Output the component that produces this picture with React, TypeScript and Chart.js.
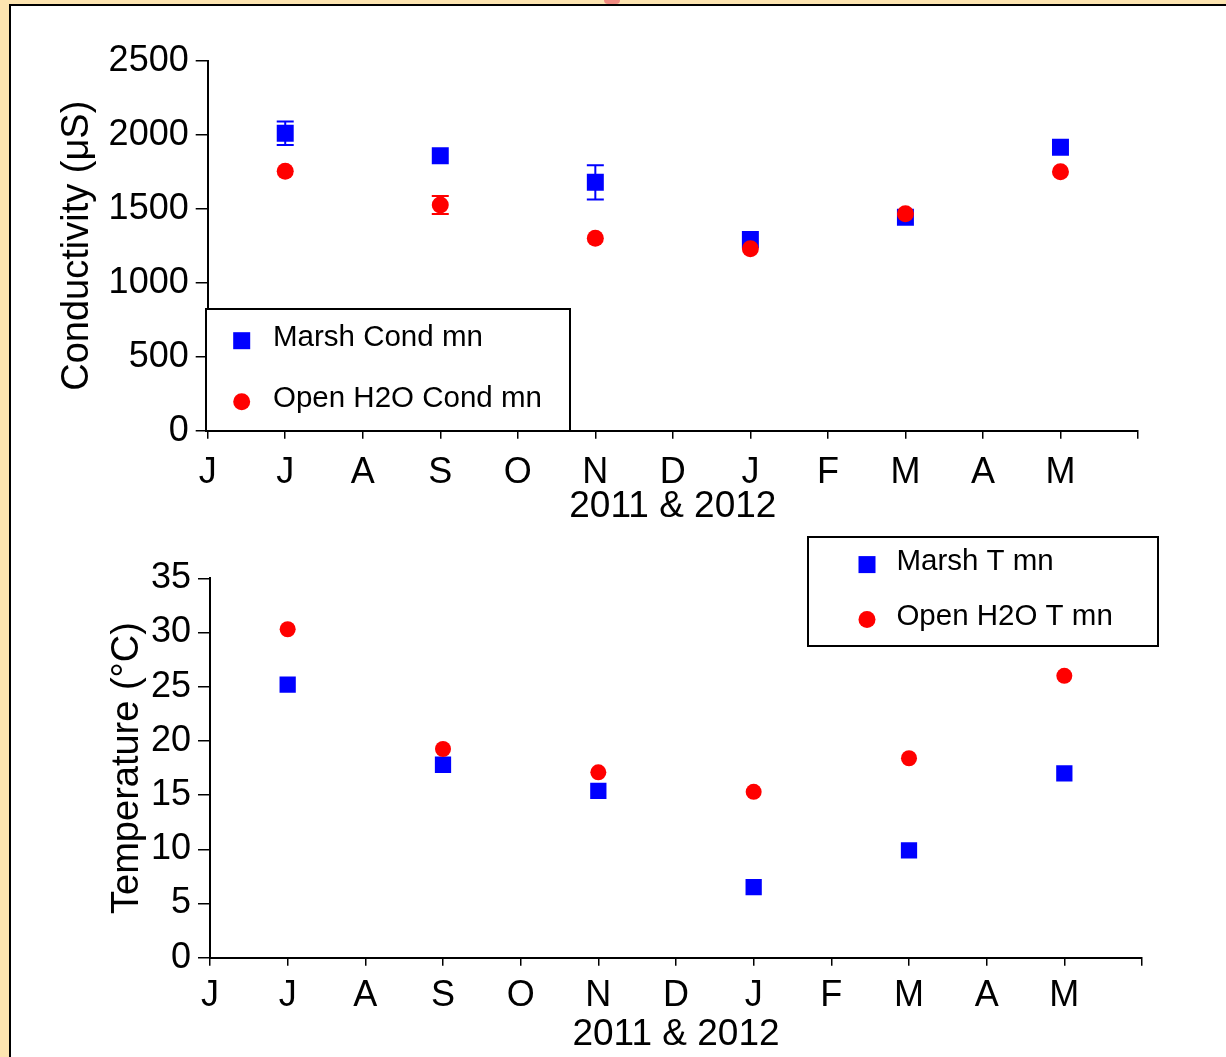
import React, { useEffect, useRef } from 'react';
import { Chart, registerables } from 'chart.js';

Chart.register(...registerables);

// ---------- data ----------
const monthLabels = ['J', 'J', 'A', 'S', 'O', 'N', 'D', 'J', 'F', 'M', 'A', 'M', ''];
const sampleMonths = [1, 3, 5, 7, 9, 11];

const marshCond = [2010, 1858, 1678, 1292, 1442, 1915];
const marshCondErr = [80, 0, 116, 0, 0, 0];
const openCond = [1753, 1525, 1300, 1230, 1466, 1750];
const openCondErr = [0, 60, 0, 0, 0, 0];

const marshTemp = [25.2, 17.8, 15.4, 6.5, 9.9, 17.0];
const openTemp = [30.3, 19.25, 17.1, 15.3, 18.4, 26.0];

const condAxis = { min: 0, max: 2500, step: 500 };
const tempAxis = { min: 0, max: 35, step: 5 };

const FONT = "'Liberation Sans', Arial, Helvetica, sans-serif";
const BLUE = '#0000FF';
const RED = '#FF0000';

// ---------- plugins ----------
const errorBarPlugin = {
  id: 'errorBars',
  afterDatasetsDraw(chart: any) {
    const ctx = chart.ctx;
    const xs = chart.scales.x;
    const ys = chart.scales.y;
    chart.data.datasets.forEach((ds: any) => {
      const errs = ds.errors;
      if (!errs) return;
      ctx.save();
      ctx.strokeStyle = ds.backgroundColor;
      ctx.lineWidth = 2;
      ds.data.forEach((pt: any, j: number) => {
        const e = errs[j];
        if (!e) return;
        const px = xs.getPixelForValue(pt.x);
        const yT = ys.getPixelForValue(pt.y + e);
        const yB = ys.getPixelForValue(pt.y - e);
        const cw = 8.5;
        ctx.beginPath();
        ctx.moveTo(px, yT);
        ctx.lineTo(px, yB);
        ctx.moveTo(px - cw, yT);
        ctx.lineTo(px + cw, yT);
        ctx.moveTo(px - cw, yB);
        ctx.lineTo(px + cw, yB);
        ctx.stroke();
      });
      ctx.restore();
    });
  },
};

const boxLegendPlugin = {
  id: 'boxLegend',
  afterDraw(chart: any, _args: any, opts: any) {
    if (!opts || !opts.box) return;
    const ctx = chart.ctx;
    const { left, top, right, bottom } = opts.box;
    ctx.save();
    ctx.fillStyle = '#fff';
    ctx.fillRect(left, top, right - left, bottom - top);
    ctx.strokeStyle = '#000';
    ctx.lineWidth = 2;
    ctx.strokeRect(left, top, right - left, bottom - top);
    chart.data.datasets.forEach((ds: any, i: number) => {
      const cy = top + opts.rows[i];
      const cx = left + opts.markerX;
      ctx.fillStyle = ds.backgroundColor;
      if (ds.pointStyle === 'rect') {
        const s = opts.markerSize;
        ctx.fillRect(cx - s / 2, cy - s / 2, s, s);
      } else {
        ctx.beginPath();
        ctx.arc(cx, cy, opts.markerSize / 2, 0, Math.PI * 2);
        ctx.fill();
      }
      ctx.fillStyle = '#000';
      ctx.font = `${opts.fontSize}px ${FONT}`;
      ctx.textBaseline = 'middle';
      ctx.textAlign = 'left';
      ctx.fillText(ds.label, left + opts.textX, cy - 3);
    });
    ctx.restore();
  },
};

// ---------- chart builder ----------
function makeConfig(p: any) {
  const pts = (vals: number[]) => vals.map((v, i) => ({ x: sampleMonths[i], y: v }));
  return {
    type: 'scatter',
    data: {
      datasets: [
        {
          label: p.labels[0],
          data: pts(p.marsh),
          errors: p.marshErr,
          pointStyle: 'rect',
          pointRadius: p.rectR,
          pointHoverRadius: p.rectR,
          backgroundColor: BLUE,
          borderColor: BLUE,
          borderWidth: 0,
          order: 2,
        },
        {
          label: p.labels[1],
          data: pts(p.open),
          errors: p.openErr,
          pointStyle: 'circle',
          pointRadius: p.circR,
          pointHoverRadius: p.circR,
          backgroundColor: RED,
          borderColor: RED,
          borderWidth: 0,
          order: 1,
        },
      ],
    },
    options: {
      responsive: false,
      animation: false,
      events: [],
      layout: { padding: { left: 0, top: p.padTop, right: p.padRight, bottom: 0 } },
      plugins: {
        legend: { display: false },
        tooltip: { enabled: false },
        boxLegend: p.legend,
      },
      scales: {
        x: {
          type: 'linear',
          min: 0,
          max: 12,
          afterBuildTicks: (s: any) => {
            s.ticks = monthLabels.map((_, i) => ({ value: i }));
          },
          ticks: {
            autoSkip: false,
            maxRotation: 0,
            callback: (_v: any, i: number) => monthLabels[i],
            font: { family: FONT, size: 36 },
            color: '#000',
            padding: p.xTickPad,
          },
          grid: { drawOnChartArea: false, tickLength: 8, color: '#000', lineWidth: 1.5 },
          border: { display: true, color: '#000', width: 2 },
          title: {
            display: true,
            text: '2011 & 2012',
            font: { family: FONT, size: 37 },
            color: '#000',
            padding: { top: 0, bottom: p.xTitlePad },
          },
          afterFit: (s: any) => {
            s.height = p.xAxisH;
          },
        },
        y: {
          type: 'linear',
          min: p.axis.min,
          max: p.axis.max,
          afterBuildTicks: (s: any) => {
            const t = [];
            for (let v = p.axis.min; v <= p.axis.max; v += p.axis.step) t.push({ value: v });
            s.ticks = t;
          },
          ticks: {
            callback: (v: any) => String(v),
            font: { family: FONT, size: 36 },
            color: '#000',
            padding: 7,
          },
          grid: { drawOnChartArea: false, tickLength: 12, color: '#000', lineWidth: 1.5 },
          border: { display: true, color: '#000', width: 2 },
          title: {
            display: true,
            text: p.yTitle,
            font: { family: FONT, size: 38 },
            color: '#000',
            padding: { top: p.yTitlePad, bottom: 0 },
          },
          afterFit: (s: any) => {
            s.width = p.yAxisW;
          },
        },
      },
    },
    plugins: [errorBarPlugin, boxLegendPlugin],
  };
}

function ChartCanvas({ params, width, height, top }: any) {
  const ref = useRef<HTMLCanvasElement>(null);
  useEffect(() => {
    const chart = new Chart(ref.current as HTMLCanvasElement, makeConfig(params) as any);
    return () => chart.destroy();
  }, []);
  return (
    <canvas
      ref={ref}
      width={width}
      height={height}
      style={{ position: 'absolute', left: 0, top, width, height, display: 'block' }}
    />
  );
}

const condParams = {
  labels: ['Marsh Cond mn', 'Open H2O Cond mn'],
  marsh: marshCond,
  marshErr: marshCondErr,
  open: openCond,
  openErr: openCondErr,
  axis: condAxis,
  yTitle: 'Conductivity (\u03BCS)',
  rectR: 12,
  circR: 8.5,
  padTop: 60.7,
  padRight: 88,
  xAxisH: 99.3,
  yAxisW: 207.7,
  xTickPad: 13,
  xTitlePad: 1,
  yTitlePad: 55,
  legend: {
    box: { left: 206, top: 309, right: 570, bottom: 431 },
    markerX: 35.7,
    textX: 67,
    rows: [31.7, 92.7],
    markerSize: 17,
    fontSize: 29.5,
  },
};

const tempParams = {
  labels: ['Marsh T mn', 'Open H2O T mn'],
  marsh: marshTemp,
  marshErr: null,
  open: openTemp,
  openErr: null,
  axis: tempAxis,
  yTitle: 'Temperature (\u00B0C)',
  rectR: 11.5,
  circR: 8,
  padTop: 48.3,
  padRight: 84,
  xAxisH: 99.3,
  yAxisW: 210,
  xTickPad: 9,
  xTitlePad: 0,
  yTitlePad: 105,
  legend: {
    box: { left: 808, top: 7, right: 1158, bottom: 116 },
    markerX: 59,
    textX: 88.4,
    rows: [27.6, 82.6],
    markerSize: 17,
    fontSize: 29.5,
  },
};

export default function App() {
  return (
    <div
      style={{
        position: 'absolute',
        left: 0,
        top: 0,
        width: 1226,
        height: 1057,
        background: '#FDE4B0',
        overflow: 'hidden',
      }}
    >
      <div
        style={{
          position: 'absolute',
          left: 604,
          top: 0,
          width: 16,
          height: 4,
          background: '#F08A80',
          borderRadius: '0 0 8px 8px',
        }}
      />
      <div
        style={{
          position: 'absolute',
          left: 9,
          top: 4,
          right: 0,
          bottom: 0,
          background: '#FFFFFF',
          borderLeft: '2px solid #000',
          borderTop: '2px solid #000',
        }}
      />
      <ChartCanvas params={condParams} width={1226} height={530} top={0} />
      <ChartCanvas params={tempParams} width={1226} height={527} top={530} />
    </div>
  );
}
